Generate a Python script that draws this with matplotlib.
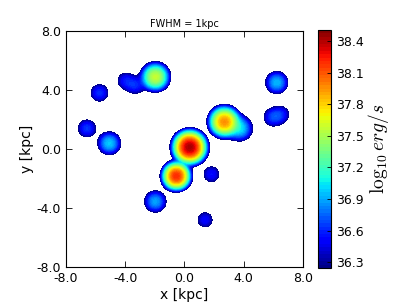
#!/usr/bin/python3
import matplotlib
matplotlib.use('Agg')
import matplotlib.pyplot as plt
import numpy as np

# source positions [kpc], peak log10 luminosity, gaussian sigma [kpc]
src_x = [0.36, -0.54, 2.70, 3.75, -1.96, -4.00, -3.30, -5.73, -6.58, -5.07,
         -1.96, 1.83, 1.40, 6.24, 5.95, 6.55]
src_y = [0.12, -1.83, 1.85, 1.40, 4.89, 4.65, 4.30, 3.81, 1.40, 0.39,
         -3.56, -1.71, -4.80, 4.51, 2.15, 2.35]
src_peak = [38.42, 38.20, 37.95, 37.00, 37.57, 36.50, 36.55, 36.62, 36.64, 36.97,
            36.88, 36.54, 36.51, 36.93, 36.60, 36.50]
src_sig = [0.425, 0.37, 0.425, 0.46, 0.425, 0.425, 0.425, 0.425, 0.425, 0.425,
           0.425, 0.425, 0.425, 0.425, 0.425, 0.425]

vmin, vmax = 36.243, 38.505
cb_ticks = [36.3, 36.6, 36.9, 37.2, 37.5, 37.8, 38.1, 38.4]


def luminosity_map(xx, yy):
    """Sum of gaussian sources, returned as log10"""
    L = np.zeros_like(xx)
    for x0, y0, p, s in zip(src_x, src_y, src_peak, src_sig):
        L += 10**p * np.exp(-((xx - x0)**2 + (yy - y0)**2) / (2*s**2))
    return np.log10(L + 1e-30)


def main():
    plt.rcParams['axes.unicode_minus'] = False
    plt.rcParams['mathtext.fontset'] = 'cm'
    plt.rcParams['xtick.direction'] = 'in'
    plt.rcParams['ytick.direction'] = 'in'
    plt.rcParams['xtick.top'] = True
    plt.rcParams['ytick.right'] = True

    g = np.linspace(-8, 8, 481)
    xx, yy = np.meshgrid(g, g)
    logL = luminosity_map(xx, yy)

    fig = plt.figure(figsize=(4.07, 3.05), dpi=100)
    ax = fig.add_axes([0.162, 0.1246, 0.582, 0.7735])
    cax = fig.add_axes([0.781, 0.121, 0.032, 0.781])

    levels = np.linspace(vmin, vmax, 70)
    cs = ax.contourf(xx, yy, logL, levels=levels, cmap='jet')
    ax.set_xlim(-8, 8)
    ax.set_ylim(-8, 8)
    ax.set_xticks([-8, -4, 0, 4, 8])
    ax.set_yticks([-8, -4, 0, 4, 8])
    ax.set_xticklabels(['%.1f' % t for t in [-8, -4, 0, 4, 8]])
    ax.set_yticklabels(['%.1f' % t for t in [-8, -4, 0, 4, 8]])
    ax.tick_params(labelsize=9, length=4, width=0.6)
    ax.set_xlabel('x [kpc]', fontsize=10, labelpad=2)
    ax.set_ylabel('y [kpc]', fontsize=10, labelpad=2)
    ax.set_title('FWHM = 1kpc', fontsize=7, pad=3)

    cb = fig.colorbar(cs, cax=cax, ticks=cb_ticks)
    cb.ax.set_yticklabels(['%.1f' % t for t in cb_ticks])
    cb.ax.tick_params(labelsize=9, length=3, width=0.6, direction='in')
    cb.set_label(r'$\log_{10}erg/s$', fontsize=14, labelpad=2)

    fig.savefig('out.png', dpi=100)


if __name__ == '__main__':
    main()
